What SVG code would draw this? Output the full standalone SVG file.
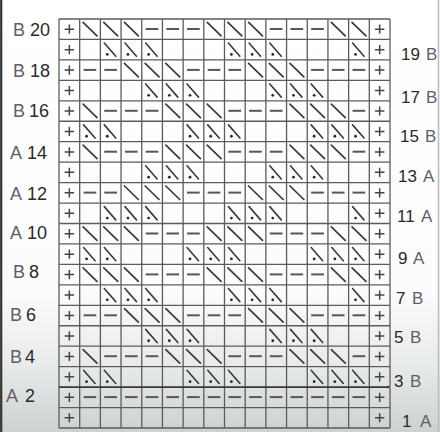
<svg xmlns="http://www.w3.org/2000/svg" xmlns:xlink="http://www.w3.org/1999/xlink" width="440" height="432" viewBox="0 0 440 432">
<style>
.g{fill:none;stroke:#5c5c5c;stroke-width:1.3}
.p{fill:none;stroke:#444;stroke-width:1.5}
.s{fill:none;stroke:#3a3a3a;stroke-width:1.7;stroke-linecap:round}
.d{fill:none;stroke:#575757;stroke-width:2}
.t{fill:none;stroke:#3a3a3a;stroke-width:1.6;stroke-linecap:round}
.dot{fill:#2a2a2a}
.n{font-family:"Liberation Sans",Arial,sans-serif;font-size:18px;fill:#2a2a2a}
.l{font-family:"Liberation Sans",Arial,sans-serif;font-size:18px;fill:#5e5e66}
.rn{font-family:"Liberation Sans",Arial,sans-serif;font-size:17px;fill:#2a2a2a}
.rl{font-family:"Liberation Sans",Arial,sans-serif;font-size:17px;fill:#5e5e6e}
</style>
<defs>
<linearGradient id="bg" x1="0" y1="0" x2="0" y2="1">
<stop offset="0" stop-color="#ffffff"/>
<stop offset="0.68" stop-color="#fbfcfb"/>
<stop offset="0.85" stop-color="#e6eae8"/>
<stop offset="1" stop-color="#cdd2d0"/>
</linearGradient>
<g id="P"><path class="p" d="M5.6 10.2H15.1M10.35 5.6V14.8"/></g>
<g id="S"><path class="s" d="M3.4 3.4L17.3 16.9"/></g>
<g id="D"><path class="d" d="M3.9 10H16.6"/></g>
<g id="T"><path class="t" d="M3.9 3.6L15.4 16.8"/><circle class="dot" cx="6.9" cy="15" r="1.4"/></g>
<g id="edge"><use href="#P" x="59"/><use href="#P" x="369.31"/></g>
<g id="rA"><use href="#edge"/><use href="#S" x="79.69"/><use href="#S" x="100.38"/><use href="#S" x="121.06"/><use href="#D" x="141.75"/><use href="#D" x="162.44"/><use href="#D" x="183.13"/><use href="#S" x="203.81"/><use href="#S" x="224.5"/><use href="#S" x="245.19"/><use href="#D" x="265.88"/><use href="#D" x="286.56"/><use href="#D" x="307.25"/><use href="#S" x="327.94"/><use href="#S" x="348.63"/></g>
<g id="rB"><use href="#edge"/><use href="#T" x="100.38"/><use href="#T" x="121.06"/><use href="#T" x="141.75"/><use href="#T" x="224.5"/><use href="#T" x="245.19"/><use href="#T" x="265.88"/><use href="#T" x="348.63"/></g>
<g id="rC"><use href="#edge"/><use href="#D" x="79.69"/><use href="#D" x="100.38"/><use href="#S" x="121.06"/><use href="#S" x="141.75"/><use href="#S" x="162.44"/><use href="#D" x="183.13"/><use href="#D" x="203.81"/><use href="#D" x="224.5"/><use href="#S" x="245.19"/><use href="#S" x="265.88"/><use href="#S" x="286.56"/><use href="#D" x="307.25"/><use href="#D" x="327.94"/><use href="#D" x="348.63"/></g>
<g id="rE"><use href="#edge"/><use href="#T" x="141.75"/><use href="#T" x="162.44"/><use href="#T" x="183.13"/><use href="#T" x="265.88"/><use href="#T" x="286.56"/><use href="#T" x="307.25"/></g>
<g id="rF"><use href="#edge"/><use href="#S" x="79.69"/><use href="#D" x="100.38"/><use href="#D" x="121.06"/><use href="#D" x="141.75"/><use href="#S" x="162.44"/><use href="#S" x="183.13"/><use href="#S" x="203.81"/><use href="#D" x="224.5"/><use href="#D" x="245.19"/><use href="#D" x="265.88"/><use href="#S" x="286.56"/><use href="#S" x="307.25"/><use href="#S" x="327.94"/><use href="#D" x="348.63"/></g>
<g id="rG"><use href="#edge"/><use href="#T" x="79.69"/><use href="#T" x="100.38"/><use href="#T" x="183.13"/><use href="#T" x="203.81"/><use href="#T" x="224.5"/><use href="#T" x="307.25"/><use href="#T" x="327.94"/><use href="#T" x="348.63"/></g>
<g id="rH"><use href="#edge"/><use href="#D" x="79.69"/><use href="#D" x="100.38"/><use href="#D" x="121.06"/><use href="#D" x="141.75"/><use href="#D" x="162.44"/><use href="#D" x="183.13"/><use href="#D" x="203.81"/><use href="#D" x="224.5"/><use href="#D" x="245.19"/><use href="#D" x="265.88"/><use href="#D" x="286.56"/><use href="#D" x="307.25"/><use href="#D" x="327.94"/><use href="#D" x="348.63"/></g>
</defs>
<rect x="0" y="0" width="440" height="432" fill="url(#bg)"/>
<path d="M1.2 0V432" stroke="#333" stroke-width="2.2"/>
<path d="M438.5 0V432" stroke="#b8bcbb" stroke-width="1.5"/>
<g id="grid">
<path class="g" d="M59 19V428M79.69 19V428M100.38 19V428M121.06 19V428M141.75 19V428M162.44 19V428M183.13 19V428M203.81 19V428M224.5 19V428M245.19 19V428M265.88 19V428M286.56 19V428M307.25 19V428M327.94 19V428M348.63 19V428M369.31 19V428M390 19V428"/>
<path class="g" d="M59 19H390M59 39.45H390M59 59.9H390M59 80.35H390M59 100.8H390M59 121.25H390M59 141.7H390M59 162.15H390M59 182.6H390M59 203.05H390M59 223.5H390M59 243.95H390M59 264.4H390M59 284.85H390M59 305.3H390M59 325.75H390M59 346.2H390M59 366.65H390M59 407.55H390M59 428H390"/>
<path d="M59 387.1H388" stroke="#3a3a3a" stroke-width="1.8"/>
<circle cx="388" cy="387.1" r="1.3" fill="#3a3a3a"/>
</g>
<g id="stitches">
<use id="row20" href="#rA" y="19"/>
<use id="row19" href="#rB" y="39.45"/>
<use id="row18" href="#rC" y="59.9"/>
<use id="row17" href="#rE" y="80.35"/>
<use id="row16" href="#rF" y="100.8"/>
<use id="row15" href="#rG" y="121.25"/>
<use id="row14" href="#rF" y="141.7"/>
<use id="row13" href="#rE" y="162.15"/>
<use id="row12" href="#rC" y="182.6"/>
<use id="row11" href="#rB" y="203.05"/>
<use id="row10" href="#rA" y="223.5"/>
<use id="row9" href="#rG" y="243.95"/>
<use id="row8" href="#rA" y="264.4"/>
<use id="row7" href="#rB" y="284.85"/>
<use id="row6" href="#rC" y="305.3"/>
<use id="row5" href="#rE" y="325.75"/>
<use id="row4" href="#rF" y="346.2"/>
<use id="row3" href="#rG" y="366.65"/>
<use id="row2" href="#rH" y="387.1"/>
<use id="row1" href="#edge" y="407.55"/>
</g>
<g id="left-labels">
<text class="l" x="13" y="36">B</text><text class="n" x="30" y="36">20</text>
<text class="l" x="13" y="77">B</text><text class="n" x="30" y="77">18</text>
<text class="l" x="13" y="117">B</text><text class="n" x="29" y="117">16</text>
<text class="l" x="10" y="159">A</text><text class="n" x="27" y="159">14</text>
<text class="l" x="10" y="200">A</text><text class="n" x="27" y="200">12</text>
<text class="l" x="10" y="239">A</text><text class="n" x="27" y="239">10</text>
<text class="l" x="13" y="278">B</text><text class="n" x="29" y="278">8</text>
<text class="l" x="10" y="321">B</text><text class="n" x="26" y="321">6</text>
<text class="l" x="10" y="363">B</text><text class="n" x="25" y="363">4</text>
<text class="l" x="6" y="402">A</text><text class="n" x="25" y="402">2</text>
</g>
<g id="right-labels">
<text class="rn" x="401" y="60">19</text><text class="rl" x="426" y="60">B</text>
<text class="rn" x="401" y="103">17</text><text class="rl" x="426" y="103">B</text>
<text class="rn" x="400" y="142">15</text><text class="rl" x="425" y="142">B</text>
<text class="rn" x="398" y="182">13</text><text class="rl" x="423" y="182">A</text>
<text class="rn" x="397" y="222">11</text><text class="rl" x="421" y="222">A</text>
<text class="rn" x="398" y="264">9</text><text class="rl" x="413" y="264">A</text>
<text class="rn" x="396" y="304">7</text><text class="rl" x="412" y="304">B</text>
<text class="rn" x="394" y="343">5</text><text class="rl" x="410" y="343">B</text>
<text class="rn" x="394" y="387">3</text><text class="rl" x="410" y="387">B</text>
<text class="rn" x="402" y="427">1</text><text class="rl" x="420" y="427">A</text>
</g>
</svg>
